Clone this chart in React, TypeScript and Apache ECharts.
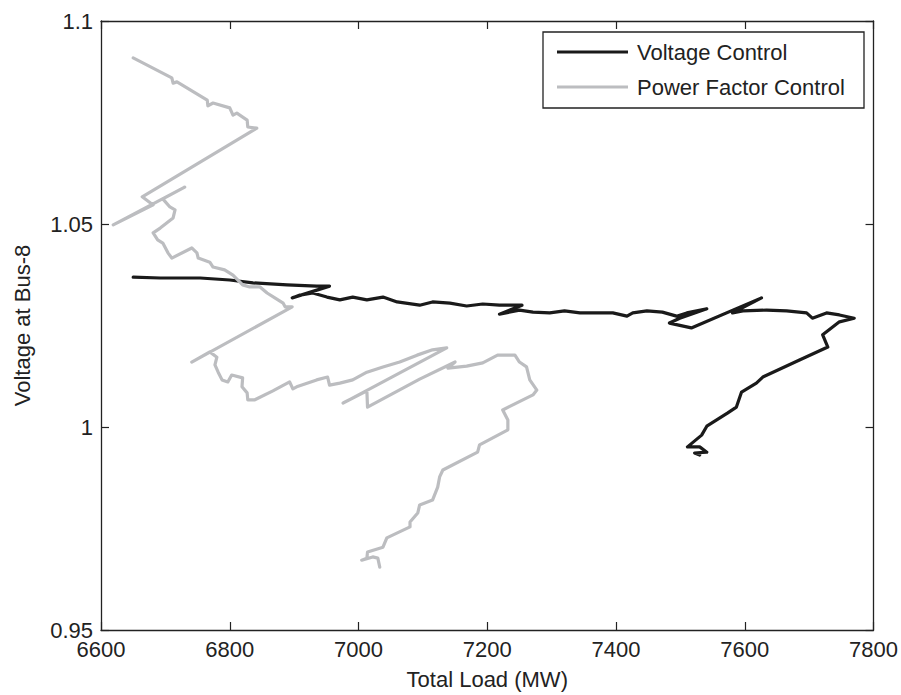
import React, { useEffect, useRef } from "react";
import * as echarts from "echarts";

const FONT = "'Liberation Sans', Arial, Helvetica, sans-serif";

const xMin = 6600;
const xMax = 7800;
const xStep = 200;
const yMin = 0.95;
const yMax = 1.1;
const yStep = 0.05;

const seriesNames = ["Voltage Control", "Power Factor Control"];

// Voltage Control trace (Total load in MW, voltage p.u.)
const vcLoad = [
  6650, 6692, 6754, 6800, 6836, 6889, 6935, 6955, 6897, 6909, 6929, 6951, 6971, 6991, 7013, 7038,
  7060, 7095, 7115, 7142, 7168, 7193, 7219, 7254, 7219, 7250, 7271, 7297, 7320, 7344, 7375, 7395,
  7417, 7426, 7448, 7472, 7494, 7510, 7541, 7499, 7483, 7517, 7626, 7581, 7597, 7634, 7665, 7696,
  7705, 7727, 7747, 7770, 7747, 7721, 7729, 7685, 7628, 7618, 7595, 7587, 7573, 7541, 7533, 7511,
  7530, 7541, 7522, 7530,
];
const vcVolt = [
  1.0369, 1.0367, 1.0367, 1.0362, 1.0355, 1.035, 1.0347, 1.0347, 1.0318, 1.0325, 1.033, 1.032, 1.0313,
  1.032, 1.0313, 1.032, 1.0308, 1.03, 1.0308, 1.0305, 1.0298, 1.0303, 1.03, 1.03, 1.0278, 1.0288,
  1.0283, 1.0281, 1.0286, 1.0281, 1.0281, 1.0281, 1.0273, 1.0281, 1.0286, 1.0283, 1.0273, 1.0281,
  1.0291, 1.0268, 1.0256, 1.0244, 1.0318, 1.0281, 1.0286, 1.0288, 1.0286, 1.0281, 1.0268, 1.0281,
  1.0276, 1.0268, 1.0259, 1.0227, 1.0197, 1.0165, 1.0123, 1.0108, 1.0086, 1.0049, 1.0034, 1.0002,
  0.998, 0.9951, 0.9951, 0.9938, 0.9936, 0.9931,
];

// Power Factor Control trace
const pfLoad = [
  6650, 6665, 6710, 6712, 6718, 6765, 6766, 6774, 6800, 6805, 6811, 6827, 6828, 6842, 6664, 6681,
  6619, 6730, 6696, 6707, 6715, 6712, 6692, 6681, 6688, 6696, 6704, 6710, 6741, 6749, 6751, 6769,
  6774, 6792, 6805, 6820, 6831, 6847, 6858, 6870, 6883, 6886, 6897, 6741, 6769, 6780, 6777, 6782,
  6788, 6797, 6803, 6820, 6819, 6827, 6828, 6839, 6867, 6893, 6898, 6904, 6935, 6952, 6955, 6971,
  6991, 7013, 7038, 7064, 7091, 7115, 7137, 6976, 7013, 7014, 7095, 7150, 7139, 7168, 7193, 7216,
  7243, 7250, 7261, 7266, 7277, 7271, 7224, 7232, 7232, 7188, 7185, 7131, 7126, 7123, 7115, 7095,
  7092, 7080, 7080, 7044, 7038, 7014, 7013, 7005, 7022, 7030, 7033,
];
const pfVolt = [
  1.0909, 1.0897, 1.086, 1.0847, 1.085, 1.0805, 1.0791, 1.0798, 1.0786, 1.0768, 1.0773, 1.0756,
  1.0739, 1.0736, 1.0567, 1.0547, 1.0498, 1.0591, 1.0562, 1.0542, 1.0535, 1.0515, 1.049, 1.0478,
  1.0461, 1.0453, 1.0429, 1.0416, 1.0441, 1.0429, 1.0416, 1.0406, 1.0394, 1.0387, 1.0374, 1.035,
  1.0345, 1.0345, 1.033, 1.0318, 1.0305, 1.0296, 1.0296, 1.016, 1.0185, 1.0172, 1.0153, 1.0135,
  1.0116, 1.0111, 1.0128, 1.0121, 1.0099, 1.0084, 1.0067, 1.0067, 1.0089, 1.0111, 1.0094, 1.0099,
  1.0116, 1.0123, 1.0103, 1.0108, 1.0116, 1.0135, 1.0148, 1.016, 1.0177, 1.019, 1.0195, 1.0059,
  1.0089, 1.0049, 1.0118, 1.016, 1.0145, 1.015, 1.0158, 1.0177, 1.0177, 1.016, 1.0148, 1.0116,
  1.0091, 1.0079, 1.0042, 1.0017, 0.9993, 0.9956, 0.9938, 0.9894, 0.9877, 0.9852, 0.982, 0.9808,
  0.9788, 0.9766, 0.9754, 0.9727, 0.9704, 0.9692, 0.9677, 0.9672, 0.968, 0.9677, 0.9655,
];

const zip = (a: number[], b: number[]) => a.map((v, i) => [v, b[i]]);

export default function App() {
  const ref = useRef<HTMLDivElement>(null);
  useEffect(() => {
    if (!ref.current) return;
    const chart = echarts.init(ref.current, undefined, { renderer: "svg" });
    const axisColor = "#222";
    const axisLine = { show: true, onZero: false, lineStyle: { color: axisColor, width: 1.3 } };
    const axisTick = { show: true, inside: true, length: 8, lineStyle: { color: axisColor, width: 1.2 } };
    const label = { color: "#222", fontSize: 22, fontFamily: FONT };
    chart.setOption({
      animation: false,
      backgroundColor: "#fff",
      grid: { left: 101, right: 27, top: 21, bottom: 65, containLabel: false },
      xAxis: [
        {
          type: "value",
          min: xMin,
          max: xMax,
          interval: xStep,
          position: "bottom",
          axisLine,
          axisTick,
          splitLine: { show: false },
          axisLabel: { ...label, margin: 8, formatter: (v: number) => String(Math.round(v)) },
          name: "Total Load (MW)",
          nameLocation: "middle",
          nameGap: 38,
          nameTextStyle: { ...label },
        },
        {
          type: "value",
          min: xMin,
          max: xMax,
          interval: xStep,
          position: "top",
          axisLine,
          axisTick,
          splitLine: { show: false },
          axisLabel: { show: false },
        },
      ],
      yAxis: [
        {
          type: "value",
          min: yMin,
          max: yMax,
          interval: yStep,
          position: "left",
          axisLine,
          axisTick,
          splitLine: { show: false },
          axisLabel: { ...label, margin: 8 },
          name: "Voltage at Bus-8",
          nameLocation: "middle",
          nameGap: 68,
          nameTextStyle: { ...label },
        },
        {
          type: "value",
          min: yMin,
          max: yMax,
          interval: yStep,
          position: "right",
          axisLine,
          axisTick,
          splitLine: { show: false },
          axisLabel: { show: false },
        },
      ],
      graphic: [
        {
          type: "rect",
          z: 3,
          shape: { x: 543, y: 32, width: 321, height: 76 },
          style: { fill: "#fff", stroke: "#222", lineWidth: 1.3 },
        },
      ],
      legend: {
        z: 5,
        orient: "vertical",
        left: 557,
        top: 40,
        padding: 0,
        itemGap: 11,
        itemWidth: 71,
        itemHeight: 3,
        icon: "rect",
        textStyle: { ...label, lineHeight: 24, padding: [0, 0, 0, 4] },
        data: seriesNames,
      },
      series: [
        {
          name: seriesNames[0],
          type: "line",
          data: zip(vcLoad, vcVolt),
          showSymbol: false,
          symbol: "none",
          itemStyle: { color: "#1a1a1a" },
          lineStyle: { color: "#1a1a1a", width: 3.2, cap: "round", join: "round" },
        },
        {
          name: seriesNames[1],
          type: "line",
          data: zip(pfLoad, pfVolt),
          showSymbol: false,
          symbol: "none",
          itemStyle: { color: "#bcbdc0" },
          lineStyle: { color: "#bcbdc0", width: 3.2, cap: "round", join: "round" },
        },
      ],
    });
    return () => chart.dispose();
  }, []);
  return (
    <div
      ref={ref}
      style={{ position: "fixed", left: 0, top: 0, width: 901, height: 695, background: "#fff" }}
    />
  );
}
